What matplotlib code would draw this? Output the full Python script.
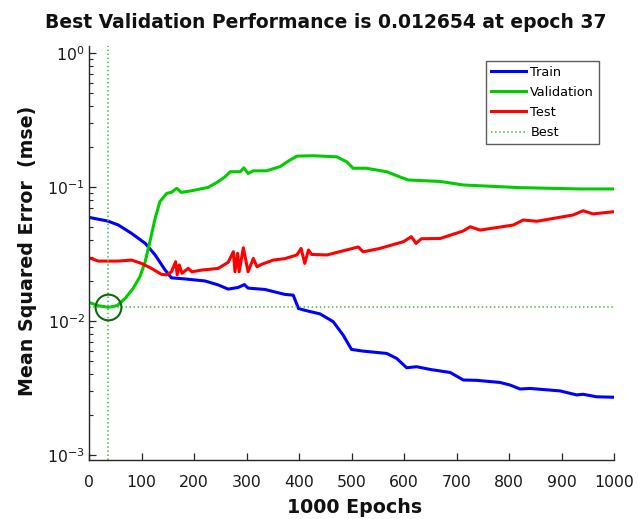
import matplotlib
matplotlib.use("Agg")
import matplotlib.pyplot as plt
from matplotlib.ticker import LogLocator, FixedLocator

plt.rcParams['font.family'] = ['DejaVu Sans']
plt.rcParams['mathtext.fontset'] = 'dejavusans'

title = "Best Validation Performance is 0.012654 at epoch 37"
best_epoch = 37
best_perf = 0.012654

train_epochs = [0, 36, 56, 81, 107, 126, 145, 157, 183, 221, 246, 265, 284, 296, 303, 335, 373,
                389, 399, 412, 440, 465, 484, 500, 521, 567, 586, 605, 624, 650, 688, 713, 738,
                783, 802, 821, 840, 897, 929, 941, 967, 1000]
train_mse = [0.0593, 0.0557, 0.052, 0.0451, 0.0380, 0.0311, 0.0240, 0.0210, 0.0206, 0.0199, 0.0186,
             0.0173, 0.0178, 0.0187, 0.0176, 0.0172, 0.0158, 0.0156, 0.0124, 0.0120, 0.0113, 0.0099,
             0.00786, 0.00614, 0.00597, 0.00573, 0.00526, 0.00448, 0.00456, 0.00435, 0.00413,
             0.00363, 0.00361, 0.00348, 0.00333, 0.00311, 0.00314, 0.00301, 0.00281, 0.00284,
             0.00272, 0.00270]

val_epochs = [0, 18, 37, 53, 69, 84, 97, 107, 116, 126, 135, 148, 157, 167, 176, 196, 227, 246,
              259, 269, 288, 295, 303, 313, 338, 364, 383, 396, 427, 472, 491, 503, 528, 567, 592,
              608, 669, 713, 821, 935, 1000]
val_mse = [0.01377, 0.0130, 0.012654, 0.0130, 0.01476, 0.0175, 0.0214, 0.0277, 0.0391, 0.0584,
           0.0777, 0.0896, 0.0912, 0.0977, 0.0912, 0.0938, 0.0993, 0.1096, 0.119, 0.130, 0.130,
           0.139, 0.126, 0.132, 0.132, 0.142, 0.159, 0.170, 0.171, 0.168, 0.154, 0.138, 0.138,
           0.130, 0.119, 0.1128, 0.110, 0.1035, 0.0989, 0.0967, 0.0967]

test_epochs = [0, 18, 56, 81, 100, 119, 138, 148, 157, 165, 168, 172, 177, 189, 196, 215, 246,
               265, 275, 278, 283, 286, 294, 303, 313, 320, 329, 351, 373, 396, 404, 411, 418,
               424, 453, 497, 513, 522, 554, 599, 614, 623, 633, 669, 713, 726, 745, 808, 827,
               853, 922, 941, 960, 1000]
test_mse = [0.0296, 0.0280, 0.0280, 0.0285, 0.0269, 0.0247, 0.0223, 0.0221, 0.0233, 0.0277,
            0.0221, 0.0262, 0.0227, 0.0247, 0.0233, 0.0240, 0.0247, 0.0274, 0.0329, 0.0233,
            0.0320, 0.0233, 0.0352, 0.0233, 0.0293, 0.0254, 0.0265, 0.0285, 0.0292, 0.0311,
            0.0348, 0.0269, 0.0339, 0.0314, 0.0311, 0.0344, 0.0357, 0.0328, 0.0348, 0.0391,
            0.0426, 0.0379, 0.0411, 0.0413, 0.0470, 0.0505, 0.0477, 0.0520, 0.0567, 0.0555,
            0.0618, 0.0665, 0.063, 0.0654]

x_ticks = [0, 100, 200, 300, 400, 500, 600, 700, 800, 900, 1000]

W, H = 638, 519
fig = plt.figure(figsize=(W / 100, H / 100), dpi=100)
ax = fig.add_axes([89 / W, 1 - 460 / H, 525 / W, 414 / H])

ax.plot(train_epochs, train_mse, color=(0, 0, 1), lw=2.2, label='Train')
ax.plot(val_epochs, val_mse, color=(0, 0.8, 0), lw=2.2, label='Validation')
ax.plot(test_epochs, test_mse, color=(1, 0, 0), lw=2.2, label='Test')
best_col = (0.25, 0.75, 0.25)
ax.axhline(best_perf, color=best_col, lw=1.1, ls=':', label='Best')
ax.axvline(best_epoch, color=best_col, lw=1.1, ls=':')
ax.plot([best_epoch], [best_perf], 'o', ms=18.5, mfc='none', mec=(0.05, 0.42, 0.05), mew=1.5)

ax.set_yscale('log')
ax.set_xlim(0, 1000)
ax.set_ylim(10 ** -3.037, 10 ** 0.052)
ax.xaxis.set_major_locator(FixedLocator(x_ticks))
ax.yaxis.set_major_locator(LogLocator(base=10, numticks=10))
ax.yaxis.set_minor_locator(LogLocator(base=10, subs=range(2, 10), numticks=10))
ax.yaxis.set_minor_formatter(plt.NullFormatter())

for s in ['top', 'right']:
    ax.spines[s].set_visible(False)
for s in ['left', 'bottom']:
    ax.spines[s].set_color('#262626')
    ax.spines[s].set_linewidth(1.0)
ax.tick_params(which='major', direction='in', length=5, width=0.9, colors='#262626',
               labelsize=11.3, labelcolor='#1a1a1a')
ax.tick_params(which='minor', direction='in', length=3, width=0.8, colors='#262626')
ax.tick_params(axis='x', which='major', pad=11)
ax.tick_params(axis='y', which='major', pad=3)

fig.text(326 / W, 1 - 27.5 / H, title, fontsize=13.5, fontweight='bold',
         ha='center', va='baseline', color='#111111')

ax.set_xlabel('1000 Epochs', fontsize=13.7, fontweight='bold', va='baseline', color='#111111')
ax.xaxis.set_label_coords((355 - 89) / 525, -(513 - 460) / 414)
ax.set_ylabel('Mean Squared Error  (mse)', fontsize=13.7, fontweight='bold',
              va='baseline', ha='center', rotation_mode='anchor', color='#111111')
ax.yaxis.set_label_coords((33 - 89) / 525, (460 - 251) / 414)

leg = ax.legend(loc='upper right', bbox_to_anchor=((599 - 89) / 525, (460 - 61) / 414),
                fontsize=9.3, frameon=True, fancybox=False, edgecolor='#333333',
                handlelength=2.7, handletextpad=0.36, labelspacing=0.55, borderpad=0.37,
                borderaxespad=0)
leg.get_frame().set_linewidth(1.0)

fig.savefig('out.png', dpi=100)
